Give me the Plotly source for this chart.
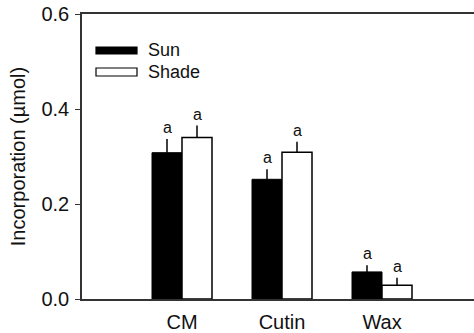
import plotly.graph_objects as go

# Incorporation of label into cuticle fractions
categories = ["CM", "Cutin", "Wax"]
series_names = ["Sun", "Shade"]
sun_values = [0.308, 0.252, 0.057]
sun_errors = [0.029, 0.021, 0.014]
shade_values = [0.340, 0.309, 0.029]
shade_errors = [0.025, 0.022, 0.016]
sun_letters = ["a", "a", "a"]
shade_letters = ["a", "a", "a"]
y_ticks = [0.0, 0.2, 0.4, 0.6]

FONT = "Liberation Sans, Arial, sans-serif"
INK = "#111111"
AXIS = "#333333"

W, H = 474, 333
ML, MT, MB, MR = 82, 14, 34, 0
PW, PH = W - ML - MR, H - MT - MB

positions = list(range(1, len(categories) + 1))
bar_w = 0.3

fig = go.Figure()

fig.add_trace(go.Bar(
    name=series_names[0], x=positions, y=sun_values,
    width=bar_w, offset=-bar_w,
    marker=dict(color="black", line=dict(color="black", width=1)),
    error_y=dict(type="data", array=sun_errors, arrayminus=[0] * len(sun_errors),
                 symmetric=False, color="black", thickness=1.5, width=0),
    showlegend=False,
))
fig.add_trace(go.Bar(
    name=series_names[1], x=positions, y=shade_values,
    width=bar_w, offset=0,
    marker=dict(color="white", line=dict(color="black", width=1.5)),
    error_y=dict(type="data", array=shade_errors, arrayminus=[0] * len(shade_errors),
                 symmetric=False, color="black", thickness=1.5, width=0),
    showlegend=False,
))

# significance letters above the error bars
annotations = []
for p, v, e, t in zip(positions, sun_values, sun_errors, sun_letters):
    annotations.append(dict(x=p - bar_w / 2, y=v + e, text=t, showarrow=False,
                            yanchor="bottom", yshift=1,
                            font=dict(family=FONT, size=16, color=INK)))
for p, v, e, t in zip(positions, shade_values, shade_errors, shade_letters):
    annotations.append(dict(x=p + bar_w / 2, y=v + e, text=t, showarrow=False,
                            yanchor="bottom", yshift=1,
                            font=dict(family=FONT, size=16, color=INK)))


# legend drawn as wide swatches with labels
def px_x(px):
    return (px - ML) / PW


def px_y(py):
    return (H - MB - py) / PH


shapes = []
legend_rows = [(series_names[0], "black", 47, 54), (series_names[1], "white", 68, 76)]
for name, fill, y0, y1 in legend_rows:
    shapes.append(dict(type="rect", xref="paper", yref="paper",
                       x0=px_x(96), x1=px_x(137), y0=px_y(y1), y1=px_y(y0),
                       fillcolor=fill, line=dict(color="black", width=1.2)))
    annotations.append(dict(xref="paper", yref="paper", x=px_x(146), y=px_y((y0 + y1) / 2),
                            text=name, showarrow=False, xanchor="left", yanchor="middle",
                            font=dict(family=FONT, size=18, color=INK)))

fig.update_layout(
    width=W, height=H,
    margin=dict(l=ML, r=MR, t=MT, b=MB, pad=0),
    paper_bgcolor="white", plot_bgcolor="white",
    barmode="overlay",
    showlegend=False,
    shapes=shapes,
    annotations=annotations,
    xaxis=dict(
        range=[0, PW / 100], tickvals=positions, ticktext=categories,
        showgrid=False, zeroline=False, ticks="",
        showline=True, linecolor=AXIS, linewidth=1.5, mirror=True,
        ticklabelstandoff=4,
        tickfont=dict(family=FONT, size=20, color=INK),
    ),
    yaxis=dict(
        range=[0, 0.6], tickvals=y_ticks, tickformat=".1f",
        showgrid=False, zeroline=False,
        ticks="outside", ticklen=5, tickwidth=1.2, tickcolor=AXIS,
        showline=True, linecolor=AXIS, linewidth=1.5,
        ticklabelstandoff=2,
        tickfont=dict(family=FONT, size=20, color=INK),
        title=dict(text="Incorporation (µmol)", standoff=10,
                   font=dict(family=FONT, size=20, color=INK)),
    ),
)

fig.write_html("out.html")
